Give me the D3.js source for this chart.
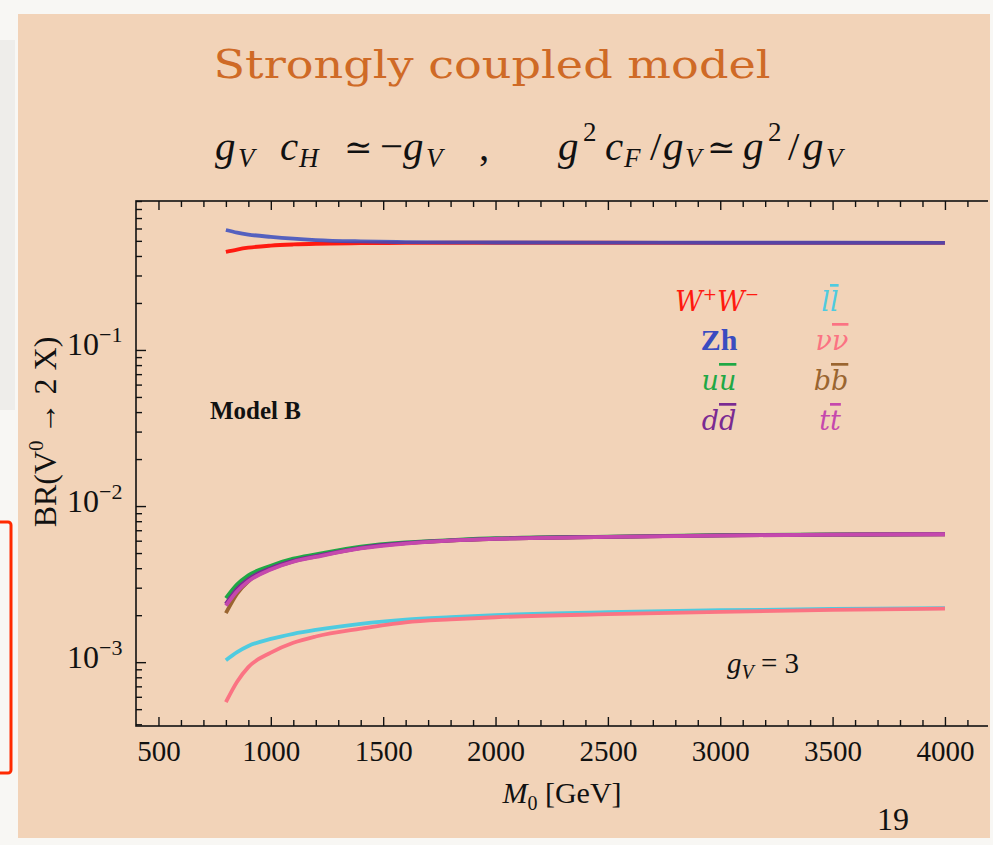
<!DOCTYPE html>
<meta charset="utf-8">
<style>
    body { margin: 0; background: #f8f7f4; }
    svg { display: block; }
    .axis path { display: none; }
    .axis line { stroke: #111; stroke-width: 1.4px; }
    .axis text { font-family: "Liberation Serif", serif; fill: #111; }
    .curve { fill: none; stroke-width: 3.8px; stroke-linejoin: round; stroke-linecap: butt; }
    .bar { text-decoration: overline; }
    .formula { font-family: "Liberation Serif", serif; font-style: italic; font-size: 41px; fill: #111; }
    .formula .up { font-style: normal; }
    .formula .sub { font-size: 27px; }
    .formula .rel { font-style: normal; font-family: "DejaVu Serif", serif; font-size: 34px; }
</style>
<svg width="993" height="845"></svg>
<script src="https://d3js.org/d3.v7.min.js"></script>
<script>

    var masses = [800, 850, 900, 1000, 1100, 1200, 1400, 1600, 1800, 2000, 2500, 3000, 3500, 4000];

    var brWW = [0.425, 0.440, 0.452, 0.466, 0.474, 0.479, 0.483, 0.485, 0.486, 0.486, 0.486, 0.485, 0.485, 0.485];
    var brZh = [0.587, 0.565, 0.549, 0.530, 0.516, 0.506, 0.496, 0.491, 0.489, 0.488, 0.487, 0.486, 0.486, 0.485];
    var brUU = [2.57e-3, 3.15e-3, 3.6e-3, 4.15e-3, 4.6e-3, 4.9e-3, 5.5e-3, 5.85e-3, 6.05e-3, 6.22e-3, 6.38e-3, 6.5e-3, 6.58e-3, 6.62e-3];
    var brDD = [2.36e-3, 2.95e-3, 3.4e-3, 4.0e-3, 4.45e-3, 4.78e-3, 5.4e-3, 5.8e-3, 6.02e-3, 6.18e-3, 6.35e-3, 6.48e-3, 6.56e-3, 6.6e-3];
    var brTT = [2.3e-3, 2.85e-3, 3.3e-3, 3.92e-3, 4.4e-3, 4.72e-3, 5.35e-3, 5.75e-3, 6.0e-3, 6.16e-3, 6.34e-3, 6.47e-3, 6.56e-3, 6.6e-3];
    var brBB = [2.06e-3, 2.75e-3, 3.3e-3, 3.95e-3, 4.42e-3, 4.75e-3, 5.38e-3, 5.78e-3, 6.01e-3, 6.17e-3, 6.35e-3, 6.48e-3, 6.56e-3, 6.6e-3];
    var brLL = [1.03e-3, 1.16e-3, 1.27e-3, 1.41e-3, 1.52e-3, 1.61e-3, 1.76e-3, 1.87e-3, 1.94e-3, 2.0e-3, 2.09e-3, 2.15e-3, 2.19e-3, 2.22e-3];
    var brNN = [5.55e-4, 7.5e-4, 9.3e-4, 1.15e-3, 1.33e-3, 1.46e-3, 1.64e-3, 1.8e-3, 1.88e-3, 1.94e-3, 2.03e-3, 2.1e-3, 2.16e-3, 2.2e-3];

    var xMajor = [500, 1000, 1500, 2000, 2500, 3000, 3500, 4000];
    var yMajor = [1e-3, 1e-2, 1e-1];
    var yExp = ["\u22123", "\u22122", "\u22121"];

    // formula tokens: text, kind (n = italic, u = upright, r = relation, b = subscript, p = superscript), x
    var formula = [
        ["g", "n", 215], ["V", "b", 238], ["c", "n", 280], ["H", "b", 299],
        ["\u2243", "r", 344], ["\u2212", "u", 380], ["g", "n", 403], ["V", "b", 426], [",", "u", 479],
        ["g", "n", 558], ["2", "p", 583], ["c", "n", 605], ["F", "b", 624], ["/", "u", 650],
        ["g", "n", 663], ["V", "b", 685], ["\u2243", "r", 707], ["g", "n", 743], ["2", "p", 768],
        ["/", "u", 788], ["g", "n", 803], ["V", "b", 826]
    ];

    var svg = d3.select("svg");

    // page / slide background
    svg.append("rect").attr("x", 0).attr("y", 40).attr("width", 15).attr("height", 370).attr("fill", "#eeedea");
    svg.append("rect").attr("x", -6).attr("y", 522).attr("width", 17).attr("height", 251).attr("rx", 3)
        .attr("fill", "none").attr("stroke", "#ff2a00").attr("stroke-width", 3);
    svg.append("rect").attr("x", 18).attr("y", 14).attr("width", 972).attr("height", 824)
        .attr("fill", "#f2d3b8");

    svg.append("text")
        .attr("x", 492).attr("y", 78)
        .attr("text-anchor", "middle")
        .attr("font-family", "DejaVu Serif, serif")
        .attr("font-size", 40)
        .attr("fill", "#cf6a26")
        .attr("textLength", 557).attr("lengthAdjust", "spacingAndGlyphs")
        .text("Strongly coupled model");

    var ft = svg.append("text").attr("class", "formula").attr("y", 160);
    formula.forEach(function(d) {
        var s = ft.append("tspan").attr("x", d[2]).text(d[0]);
        if (d[1] === "u") s.attr("class", "up").attr("y", 160);
        else if (d[1] === "r") s.attr("class", "rel").attr("y", 159);
        else if (d[1] === "b") s.attr("class", "sub").attr("y", 167);
        else if (d[1] === "p") s.attr("class", "sub up").attr("y", 141);
        else s.attr("y", 160);
    });

    // plot area
    var plotLeft = 136, plotTop = 201, plotRight = 1000, plotBottom = 726;

    var x = d3.scaleLinear().domain([400, 4245]).range([plotLeft, plotRight]);
    var y = d3.scaleLog().domain([3.9e-4, 0.9]).range([plotBottom, plotTop]);

    svg.append("defs").append("clipPath").attr("id", "slide")
        .append("rect").attr("x", 0).attr("y", 14).attr("width", 988).attr("height", 824);

    var plot = svg.append("g").attr("clip-path", "url(#slide)");

    var xMinor = d3.range(500, 4250, 100).filter(function(v) { return v % 500 !== 0; });
    var yMinor = [];
    [1e-4, 1e-3, 1e-2, 1e-1].forEach(function(d) {
        for (var k = 2; k <= 9; k++) {
            var v = d * k;
            if (v >= 3.9e-4 && v <= 0.9) yMinor.push(v);
        }
    });

    plot.append("g").attr("class", "axis")
        .attr("transform", "translate(0," + plotBottom + ")")
        .call(d3.axisBottom(x).tickValues(xMinor).tickSize(-6).tickFormat(""));
    plot.append("g").attr("class", "axis")
        .attr("transform", "translate(0," + plotTop + ")")
        .call(d3.axisTop(x).tickValues(xMinor).tickSize(-6).tickFormat(""));
    plot.append("g").attr("class", "axis")
        .attr("transform", "translate(0," + plotTop + ")")
        .call(d3.axisTop(x).tickValues(xMajor).tickSize(-9).tickFormat(""));
    var xAx = plot.append("g").attr("class", "axis")
        .attr("transform", "translate(0," + plotBottom + ")")
        .call(d3.axisBottom(x).tickValues(xMajor).tickSize(-9).tickPadding(18).tickFormat(d3.format("d")));
    xAx.selectAll("text").attr("font-size", 29).attr("dy", "0.6em");

    plot.append("g").attr("class", "axis")
        .attr("transform", "translate(" + plotLeft + ",0)")
        .call(d3.axisLeft(y).tickValues(yMinor).tickSize(-6).tickFormat(""));
    var yAx = plot.append("g").attr("class", "axis")
        .attr("transform", "translate(" + plotLeft + ",0)")
        .call(d3.axisLeft(y).tickValues(yMajor).tickSize(-10).tickFormat(""));
    yAx.selectAll(".tick").each(function(d, i) {
        var t = d3.select(this).append("text")
            .attr("x", -69).attr("y", 5)
            .attr("font-size", 32)
            .attr("text-anchor", "start");
        t.append("tspan").text("10");
        t.append("tspan").attr("dy", -13).attr("font-size", 22).text(yExp[i]);
    });

    plot.append("rect")
        .attr("x", plotLeft).attr("y", plotTop)
        .attr("width", plotRight - plotLeft).attr("height", plotBottom - plotTop)
        .attr("fill", "none").attr("stroke", "#111").attr("stroke-width", 1.6);

    var line = d3.line()
        .curve(d3.curveMonotoneX)
        .x(function(d) { return x(d[0]); })
        .y(function(d) { return y(d[1]); });

    var series = [
        {name: "ll", values: brLL, color: "#4fcbe0"},
        {name: "nn", values: brNN, color: "#fb7383"},
        {name: "bb", values: brBB, color: "#9a6530"},
        {name: "uu", values: brUU, color: "#1fa845"},
        {name: "dd", values: brDD, color: "#7a2a92"},
        {name: "tt", values: brTT, color: "#c548ad"},
        {name: "WW", values: brWW, color: "#ff1a10"},
        {name: "Zh", values: brZh, color: "#3a4cc0"}
    ];

    plot.selectAll(".curve")
        .data(series)
        .enter().append("path")
        .attr("class", "curve")
        .attr("stroke", function(d) { return d.color; })
        .attr("opacity", function(d) { return d.name === "Zh" ? 0.85 : 1; })
        .attr("d", function(d) {
            return line(masses.map(function(m, i) { return [m, d.values[i]]; }));
        });

    // legend: [plain part, barred part]
    var legend = [
        {parts: ["W", "+", "W", "\u2212"], color: "#ff1a10", x: 717, y: 311, ww: true},
        {parts: ["Zh", ""], color: "#3a4cc0", x: 719, y: 350, upright: true},
        {parts: ["u", "u"], color: "#1fa845", x: 719, y: 390},
        {parts: ["d", "d"], color: "#7a2a92", x: 719, y: 430},
        {parts: ["l", "l"], color: "#4fcbe0", x: 830, y: 311},
        {parts: ["\u03BD", "\u03BD"], color: "#fb7383", x: 832, y: 350},
        {parts: ["b", "b"], color: "#9a6530", x: 831, y: 390},
        {parts: ["t", "t"], color: "#c548ad", x: 830, y: 430}
    ];

    legend.forEach(function(d) {
        var t = svg.append("text")
            .attr("x", d.x).attr("y", d.y)
            .attr("text-anchor", "middle")
            .attr("font-family", d.upright ? "Liberation Serif, serif" : "DejaVu Serif, serif")
            .attr("font-style", d.upright ? "normal" : "italic")
            .attr("font-weight", d.upright ? "bold" : "normal")
            .attr("font-size", d.upright ? 30 : 27)
            .attr("fill", d.color);
        if (d.ww) {
            t.append("tspan").text(d.parts[0]);
            t.append("tspan").attr("dy", -11).attr("font-size", 17).attr("font-style", "normal").text(d.parts[1]);
            t.append("tspan").attr("dy", 11).text(d.parts[2]);
            t.append("tspan").attr("dy", -11).attr("font-size", 17).attr("font-style", "normal").text(d.parts[3]);
        } else {
            t.append("tspan").text(d.parts[0]);
            if (d.parts[1]) t.append("tspan").attr("class", "bar").text(d.parts[1]);
        }
    });

    svg.append("text")
        .attr("x", 210).attr("y", 419)
        .attr("font-family", "Liberation Serif, serif")
        .attr("font-weight", "bold")
        .attr("font-size", 25)
        .attr("fill", "#111")
        .text("Model B");

    var gv = svg.append("text")
        .attr("x", 727).attr("y", 673)
        .attr("font-family", "Liberation Serif, serif")
        .attr("font-size", 29)
        .attr("fill", "#111");
    gv.append("tspan").attr("font-style", "italic").text("g");
    gv.append("tspan").attr("font-style", "italic").attr("font-size", 20).attr("dy", 6).text("V");
    gv.append("tspan").attr("dy", -6).text(" = 3");

    // axis titles
    var xl = svg.append("text")
        .attr("x", 562).attr("y", 803)
        .attr("text-anchor", "middle")
        .attr("font-family", "Liberation Serif, serif")
        .attr("font-size", 30)
        .attr("fill", "#111");
    xl.append("tspan").attr("font-style", "italic").text("M");
    xl.append("tspan").attr("font-size", 20).attr("dy", 7).text("0");
    xl.append("tspan").attr("dy", -7).text(" [GeV]");

    var yl = svg.append("text")
        .attr("transform", "translate(56,432) rotate(-90)")
        .attr("text-anchor", "middle")
        .attr("font-family", "Liberation Serif, serif")
        .attr("font-size", 32)
        .attr("fill", "#111");
    yl.append("tspan").text("BR(V");
    yl.append("tspan").attr("dy", -13).attr("font-size", 21).text("0");
    yl.append("tspan").attr("dy", 13).attr("dx", 6).text("\u2192");
    yl.append("tspan").attr("dx", 8).text("2 X)");

    svg.append("text")
        .attr("x", 893).attr("y", 830)
        .attr("text-anchor", "middle")
        .attr("font-family", "Liberation Serif, serif")
        .attr("font-size", 32)
        .attr("fill", "#111")
        .text("19");

</script>
